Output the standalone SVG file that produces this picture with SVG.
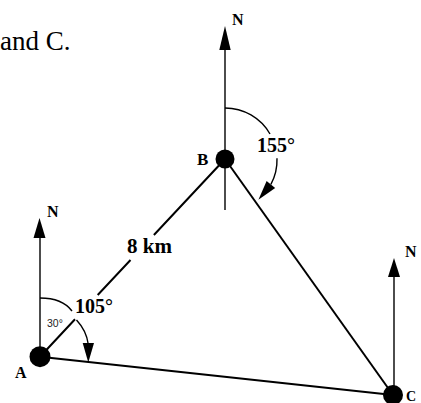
<svg xmlns="http://www.w3.org/2000/svg" width="421" height="403" viewBox="0 0 421 403">
<style>
.t{font-family:"Liberation Serif","Times New Roman",serif;fill:#000}
.b{font-weight:bold}
.edge{stroke:#000;stroke-width:2;fill:none;stroke-linecap:butt}
.north{stroke:#000;stroke-width:1.4;fill:none}
.arc{stroke:#000;stroke-width:1.4;fill:none}
.head{fill:#000;stroke:none}
.dot{fill:#000}
</style>
<rect width="421" height="403" fill="#fff"/>
<text class="t" x="0" y="50" font-size="27">and C.</text>
<g id="connectors">
  <path class="edge" d="M40,356.7 L75,319.3 M97.7,295 L130.5,260 M153.9,235 L225,159"/>
  <path class="edge" d="M40,356.7 L393,395"/>
  <path class="edge" d="M225,159 L393,395"/>
</g>
<g id="north-A">
  <line class="north" x1="40" y1="237" x2="40" y2="356"/>
  <polygon class="head" points="39.5,218 33.5,238 45.5,238"/>
  <text class="t b" x="47" y="217" font-size="16">N</text>
</g>
<g id="north-B">
  <line class="north" x1="225" y1="48" x2="225" y2="210"/>
  <polygon class="head" points="225,26 219.3,50 230.7,50"/>
  <text class="t b" x="232" y="25" font-size="16">N</text>
</g>
<g id="north-C">
  <line class="north" x1="394" y1="276" x2="394" y2="395"/>
  <polygon class="head" points="394,258 388,277 400,277"/>
  <text class="t b" x="405" y="257" font-size="16">N</text>
</g>
<g id="angle-A">
  <path class="arc" d="M40,298 C55,298 66,303 72,311"/>
  <path class="arc" d="M76.5,320 C83,327 87,335 88.2,344"/>
  <polygon class="head" points="88.3,362.5 82.7,343 94,343"/>
  <text x="47" y="327" font-size="10.5" font-family="Liberation Sans, Arial, sans-serif" fill="#222">30°</text>
  <text class="t b" x="75" y="313" font-size="20">105°</text>
</g>
<g id="angle-B">
  <path class="arc" d="M225,108 A52,52 0 0 1 270,134"/>
  <path class="arc" d="M277,158.2 A52,52 0 0 1 270.9,184.4"/>
  <polygon class="head" points="258.4,199.8 275.2,187.9 266.6,180.9"/>
  <text class="t b" x="257" y="152" font-size="20">155°</text>
</g>
<g id="label-AB">
  <text class="t b" x="127" y="253" font-size="21">8 km</text>
</g>
<g id="node-A">
  <circle class="dot" cx="40" cy="356.7" r="10.5"/>
  <text class="t b" x="15" y="378" font-size="16">A</text>
</g>
<g id="node-B">
  <circle class="dot" cx="225" cy="159" r="9.5"/>
  <text class="t b" x="197" y="165" font-size="17">B</text>
</g>
<g id="node-C">
  <circle class="dot" cx="393" cy="395" r="10"/>
  <text class="t b" x="406" y="401" font-size="14">C</text>
</g>
</svg>
